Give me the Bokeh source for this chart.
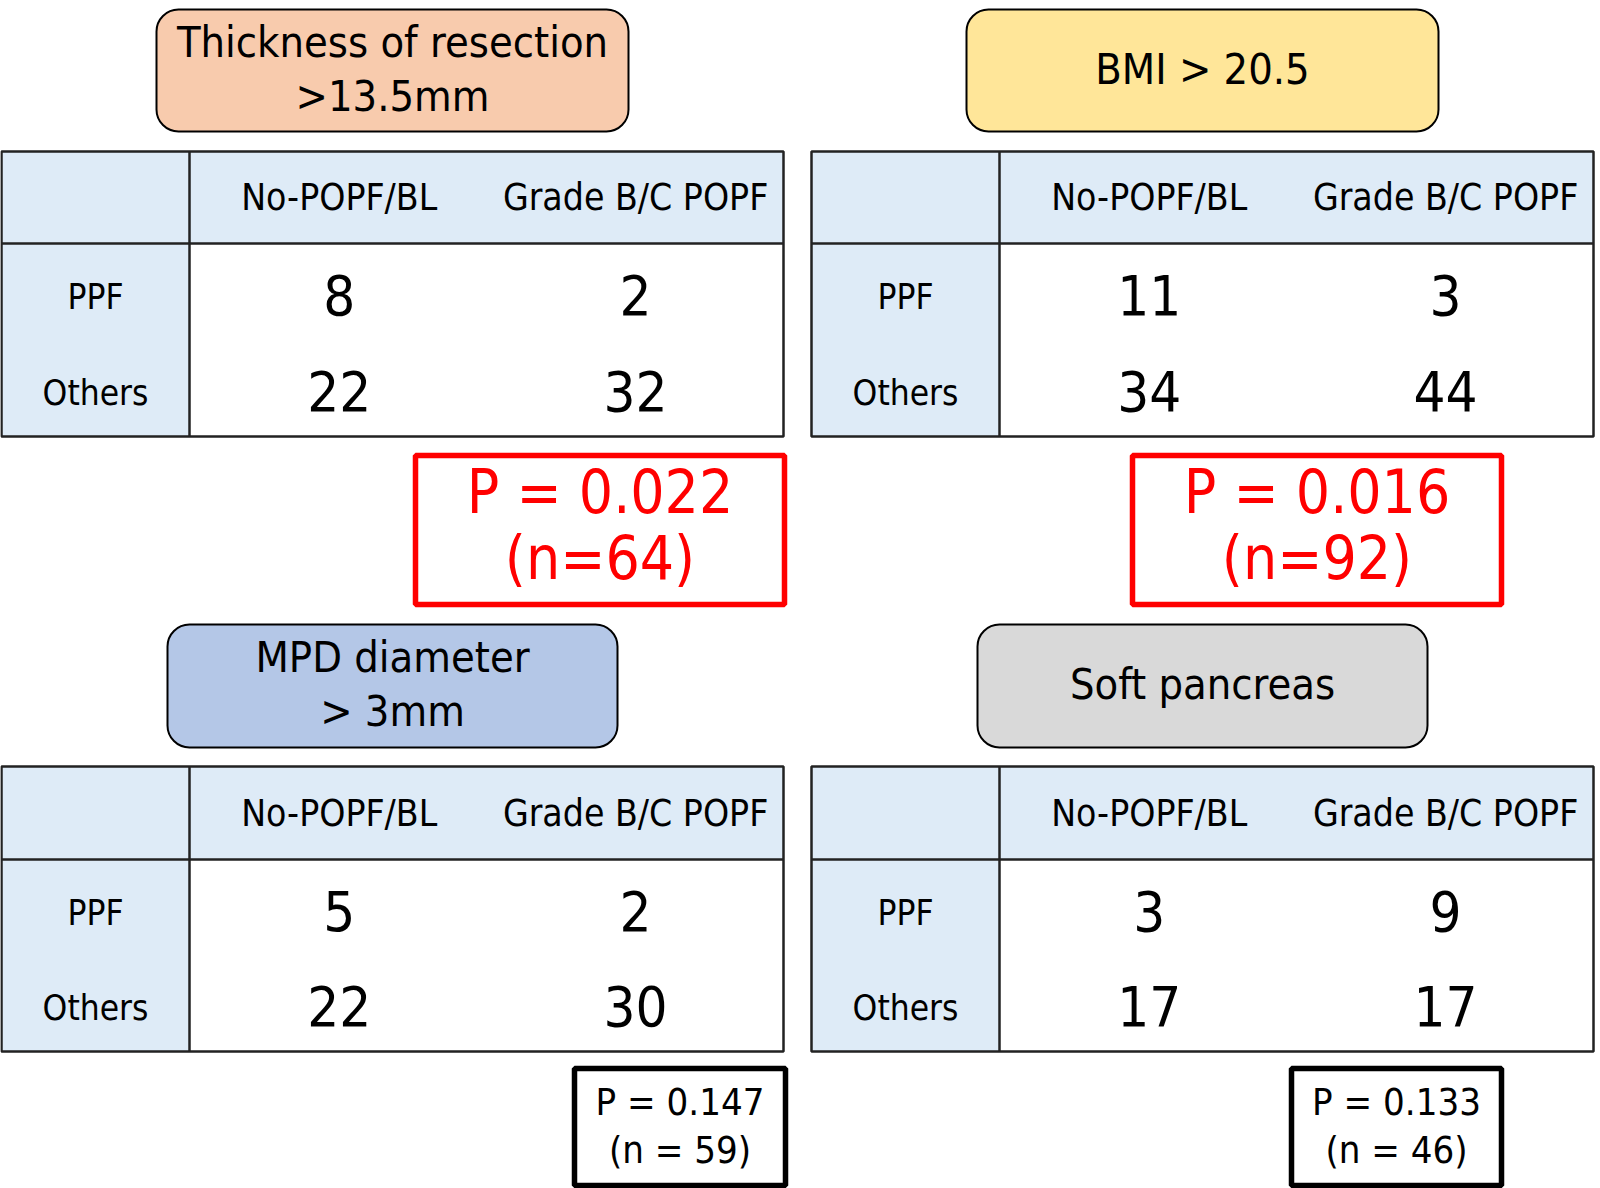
from bokeh.plotting import figure
from bokeh.models import Range1d, ColumnDataSource
from bokeh.core.properties import value
from bokeh.embed import file_html
from bokeh.resources import INLINE

# ---- data ----
titles = [["Thickness of resection", ">13.5mm"], ["BMI > 20.5"], ["MPD diameter", "> 3mm"], ["Soft pancreas"]]
title_colors = ["#F8CBAD", "#FFE699", "#B4C7E7", "#D9D9D9"]
col_labels = ["No-POPF/BL", "Grade B/C POPF"]
row_labels = ["PPF", "Others"]
no_popf = [[8, 22], [11, 34], [5, 22], [3, 17]]
grade_bc = [[2, 32], [3, 44], [2, 30], [9, 17]]
p_values = ["P = 0.022", "P = 0.016", "P = 0.147", "P = 0.133"]
n_labels = ["(n=64)", "(n=92)", "(n = 59)", "(n = 46)"]
significant = [True, True, False, False]

# ---- layout (reference pixel coordinates) ----
FONT = value("'DejaVu Sans Condensed', 'Liberation Sans Narrow', Roboto, sans-serif")
W, H = 1600, 1188
p = figure(width=1600, height=1188, output_backend="svg", toolbar_location=None,
           x_range=Range1d(0, W), y_range=Range1d(H, 0), min_border=0)
p.axis.visible = False
p.grid.visible = False
p.outline_line_color = None

panels = [
    dict(tx=(1, 189, 783), ty=(151, 243, 436), box=(156, 628, 9, 131), pbox=(415, 784, 455, 604)),
    dict(tx=(811, 999, 1593), ty=(151, 243, 436), box=(966, 1438, 9, 131), pbox=(1132, 1501, 455, 604)),
    dict(tx=(1, 189, 783), ty=(766, 859, 1051), box=(167, 617, 624, 747), pbox=(574, 785, 1068, 1185)),
    dict(tx=(811, 999, 1593), ty=(766, 859, 1051), box=(977, 1427, 624, 747), pbox=(1291, 1501, 1068, 1185)),
]
HEADER_BLUE = "#DEEBF7"

for i, pan in enumerate(panels):
    x0, x1, x2 = pan["tx"]
    y0, y1, y2 = pan["ty"]
    # title box
    bl, br, bt, bb = pan["box"]
    p.quad(left=[bl], right=[br], top=[bt], bottom=[bb], fill_color=title_colors[i],
           line_color="#000000", line_width=2, border_radius=22)
    cx = (bl + br) / 2
    lines = titles[i]
    if len(lines) == 2:
        ys = [(bt + bb) / 2 - 29, (bt + bb) / 2 + 25]
    else:
        ys = [(bt + bb) / 2 - 2]
    p.text(x=[cx] * len(lines), y=ys, text=lines, text_font=FONT, text_font_size="43px",
           text_align="center", text_baseline="middle", text_color="#000000")
    # table fills
    p.quad(left=[x0, x0], right=[x2, x1], top=[y0, y1], bottom=[y1, y2],
           fill_color=HEADER_BLUE, line_color=None)
    p.quad(left=[x1], right=[x2], top=[y1], bottom=[y2], fill_color="#FFFFFF", line_color=None)
    # table lines
    p.quad(left=[x0], right=[x2], top=[y0], bottom=[y2], fill_color=None, line_color="#222222", line_width=2.5)
    p.segment(x0=[x1, x0], y0=[y0, y1], x1=[x1, x2], y1=[y2, y1], line_color="#222222", line_width=2.5)
    # headers
    c1 = x1 + (x2 - x1) * 0.252
    c2 = x1 + (x2 - x1) * 0.751
    hy = (y0 + y1) / 2
    p.text(x=[c1, c2], y=[hy, hy], text=col_labels, text_font=FONT, text_font_size="37px",
           text_align="center", text_baseline="middle", text_color="#000000")
    r1 = y1 + (y2 - y1) * 0.30
    r2 = y1 + (y2 - y1) * 0.79
    p.text(x=[(x0 + x1) / 2] * 2, y=[r1 - 4, r2 - 3], text=row_labels, text_font=FONT, text_font_size="35px",
           text_align="center", text_baseline="middle", text_color="#000000")
    src = ColumnDataSource(dict(
        x=[c1, c1, c2, c2], y=[r1 - 6, r2 - 5, r1 - 6, r2 - 5],
        t=[str(v) for v in no_popf[i]] + [str(v) for v in grade_bc[i]]))
    p.text(x="x", y="y", text="t", source=src, text_font=FONT, text_font_size="56px",
           text_align="center", text_baseline="middle", text_color="#000000")
    # p-value box
    pl, pr, pt, pb = pan["pbox"]
    col = "#FF0000" if significant[i] else "#000000"
    p.quad(left=[pl], right=[pr], top=[pt], bottom=[pb], fill_color="#FFFFFF",
           line_color=col, line_width=5.5)
    pcx = (pl + pr) / 2
    if significant[i]:
        pys = [pt + 36, pt + 102]
        fs = "60px"
    else:
        pys = [pt + 33, pt + 81]
        fs = "38px"
    p.text(x=[pcx, pcx], y=pys, text=[p_values[i], n_labels[i]], text_font=FONT, text_font_size=fs,
           text_align="center", text_baseline="middle", text_color=col)

open("out.html", "w").write(file_html(p, INLINE))
